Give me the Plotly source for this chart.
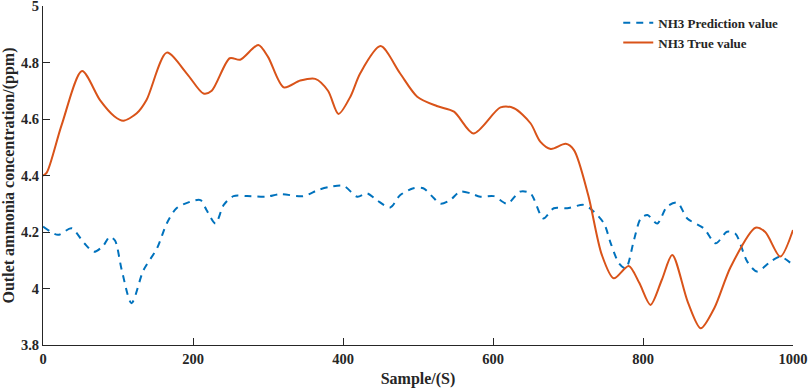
import plotly.graph_objects as go

true_x = [0, 5, 25, 52, 76, 95, 107, 125, 138, 165, 192, 214, 225, 249, 263, 287, 300, 321, 343, 363, 380, 394, 410, 423, 450, 476, 499, 525, 548, 574, 610, 628, 650, 663, 677, 697, 708, 727, 745, 761, 781, 795, 810, 825, 839, 860, 877, 895, 917, 950, 963, 983, 1000]
true_y = [4.40, 4.41, 4.58, 4.77, 4.667, 4.61, 4.594, 4.62, 4.667, 4.835, 4.76, 4.69, 4.70, 4.815, 4.81, 4.862, 4.82, 4.712, 4.736, 4.742, 4.70, 4.618, 4.68, 4.762, 4.858, 4.762, 4.679, 4.646, 4.626, 4.549, 4.641, 4.638, 4.585, 4.52, 4.494, 4.512, 4.49, 4.33, 4.12, 4.036, 4.08, 4.02, 3.942, 4.03, 4.119, 3.95, 3.859, 3.93, 4.077, 4.215, 4.20, 4.113, 4.207]

pred_x = [0, 20, 38, 55, 68, 80, 89, 96, 105, 118, 134, 152, 165, 178, 196, 210, 218, 230, 241, 254, 272, 298, 316, 347, 367, 383, 401, 419, 432, 445, 463, 476, 494, 507, 521, 530, 543, 556, 570, 583, 601, 619, 636, 650, 667, 681, 699, 721, 732, 748, 757, 768, 777, 788, 797, 806, 819, 832, 846, 859, 881, 897, 912, 923, 939, 952, 970, 983, 1000]
pred_y = [4.219, 4.19, 4.213, 4.16, 4.13, 4.15, 4.183, 4.17, 4.065, 3.948, 4.065, 4.142, 4.23, 4.284, 4.307, 4.313, 4.278, 4.23, 4.296, 4.327, 4.327, 4.325, 4.334, 4.327, 4.349, 4.36, 4.363, 4.325, 4.337, 4.313, 4.287, 4.33, 4.355, 4.355, 4.32, 4.30, 4.313, 4.343, 4.337, 4.325, 4.327, 4.30, 4.343, 4.337, 4.248, 4.284, 4.284, 4.296, 4.278, 4.23, 4.16, 4.089, 4.071, 4.172, 4.248, 4.26, 4.23, 4.29, 4.304, 4.248, 4.213, 4.16, 4.201, 4.195, 4.095, 4.06, 4.095, 4.113, 4.083]

x_ticks = [0, 200, 400, 600, 800, 1000]
y_ticks = [3.8, 4, 4.2, 4.4, 4.6, 4.8, 5]
y_tick_text = ["3.8", "4", "4.2", "4.4", "4.6", "4.8", "5"]

BLUE = "#0072BD"
ORANGE = "#D95319"
FONT = "Liberation Serif"

fig = go.Figure()
fig.add_trace(go.Scatter(x=pred_x, y=pred_y, mode="lines", name="<b>NH3 Prediction value</b>",
                         line=dict(color=BLUE, width=2, dash="7px,6px", shape="spline", smoothing=0.8)))
fig.add_trace(go.Scatter(x=true_x, y=true_y, mode="lines", name="<b>NH3 True value</b>",
                         line=dict(color=ORANGE, width=2, shape="spline", smoothing=0.8)))

axis_common = dict(showgrid=False, zeroline=False, showline=True, linecolor="#262626", linewidth=1.2,
                   ticks="inside", ticklen=7, tickcolor="#262626", tickwidth=1.2, automargin=False,
                   ticklabeloverflow="allow",
                   tickfont=dict(family=FONT, size=14.5, color="#262626"), mirror=False)

fig.update_layout(
    width=809, height=389,
    margin=dict(l=43, r=16, t=6, b=44),
    plot_bgcolor="white", paper_bgcolor="white",
    font=dict(family=FONT, color="#262626"),
    xaxis=dict(range=[0, 1000], tickvals=x_ticks, ticktext=[f"<b>{v}</b>" for v in x_ticks],
               title=dict(text="<b>Sample/(S)</b>", font=dict(family=FONT, size=16), standoff=7), **axis_common),
    yaxis=dict(range=[3.8, 5], tickvals=y_ticks, ticktext=[f"<b>{t}</b>" for t in y_tick_text],
               title=dict(text="<b>Outlet ammonia concentration/(ppm)</b>", font=dict(family=FONT, size=16), standoff=3),
               **axis_common),
    legend=dict(x=0.767, y=0.995, xanchor="left", yanchor="top", bgcolor="rgba(0,0,0,0)",
                font=dict(family=FONT, size=13, color="#262626"), tracegroupgap=0, itemwidth=30),
    showlegend=True,
)

fig.write_html("out.html", config={"displayModeBar": False},
               post_script="document.body.style.margin='0';document.body.style.overflow='hidden';")
